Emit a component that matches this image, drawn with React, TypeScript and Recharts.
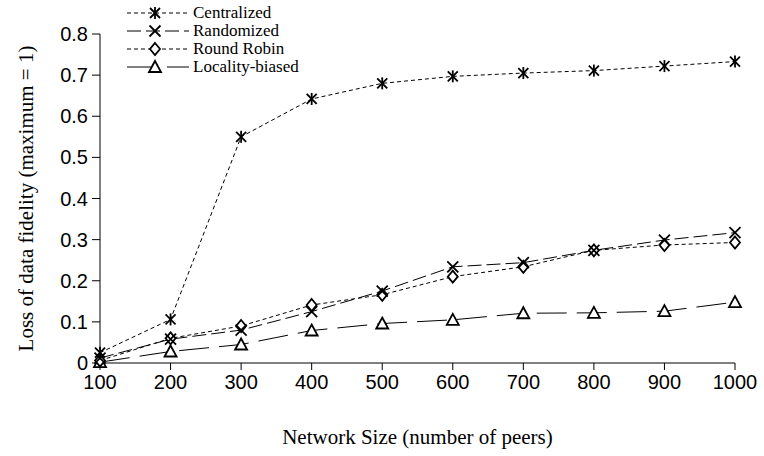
import { LineChart, Line, XAxis, YAxis } from 'recharts';

// values
const networkSizes = [100, 200, 300, 400, 500, 600, 700, 800, 900, 1000];
const centralized = [0.025, 0.106, 0.55, 0.642, 0.68, 0.697, 0.705, 0.711, 0.722, 0.733];
const randomized = [0.012, 0.058, 0.08, 0.125, 0.175, 0.234, 0.244, 0.274, 0.299, 0.317];
const roundRobin = [0.006, 0.06, 0.09, 0.141, 0.166, 0.21, 0.234, 0.274, 0.287, 0.293];
const localityBiased = [0.002, 0.028, 0.045, 0.079, 0.096, 0.105, 0.121, 0.122, 0.126, 0.148];
const xTicks = [100, 200, 300, 400, 500, 600, 700, 800, 900, 1000];
const yTicks = [0, 0.1, 0.2, 0.3, 0.4, 0.5, 0.6, 0.7, 0.8];

const data = networkSizes.map((size, i) => ({
  size,
  centralized: centralized[i],
  randomized: randomized[i],
  roundRobin: roundRobin[i],
  localityBiased: localityBiased[i]
}));

type MarkerKind = 'asterisk' | 'cross' | 'diamond' | 'triangle';

const Marker = ({ cx, cy, kind }: { cx: number; cy: number; kind: MarkerKind }) => {
  const sw = 1.8;
  if (kind === 'asterisk') {
    return (
      <g stroke="#000" strokeWidth={sw}>
        <line x1={cx - 5} y1={cy - 5} x2={cx + 5} y2={cy + 5} />
        <line x1={cx - 5} y1={cy + 5} x2={cx + 5} y2={cy - 5} />
        <line x1={cx} y1={cy - 6} x2={cx} y2={cy + 6} />
      </g>
    );
  }
  if (kind === 'cross') {
    return (
      <g stroke="#000" strokeWidth={sw}>
        <line x1={cx - 5.5} y1={cy - 5.5} x2={cx + 5.5} y2={cy + 5.5} />
        <line x1={cx - 5.5} y1={cy + 5.5} x2={cx + 5.5} y2={cy - 5.5} />
      </g>
    );
  }
  if (kind === 'diamond') {
    return (
      <polygon
        points={`${cx},${cy - 6} ${cx + 5},${cy} ${cx},${cy + 6} ${cx - 5},${cy}`}
        fill="#fff"
        stroke="#000"
        strokeWidth={sw}
      />
    );
  }
  return (
    <polygon
      points={`${cx},${cy - 6} ${cx + 6},${cy + 5} ${cx - 6},${cy + 5}`}
      fill="#fff"
      stroke="#000"
      strokeWidth={sw}
    />
  );
};

const series: { key: string; name: string; dash: string; marker: MarkerKind }[] = [
  { key: 'centralized', name: 'Centralized', dash: '4 3', marker: 'asterisk' },
  { key: 'randomized', name: 'Randomized', dash: '14 5', marker: 'cross' },
  { key: 'roundRobin', name: 'Round Robin', dash: '4 3', marker: 'diamond' },
  { key: 'localityBiased', name: 'Locality-biased', dash: '30 10', marker: 'triangle' }
];

const serif = "'Times New Roman', Times, 'Liberation Serif', 'Nimbus Roman', 'Noto Serif', serif";
const sans = "Arial, 'Liberation Sans', Helvetica, sans-serif";

const ChartLegend = () => (
  <svg width={240} height={80} style={{ display: 'block' }}>
    {series.map((s, i) => {
      const y = 13 + i * 18;
      return (
        <g key={s.key}>
          <line x1={5} y1={y} x2={67} y2={y} stroke="#000" strokeWidth={1} strokeDasharray={s.dash} />
          <Marker cx={33} cy={y} kind={s.marker} />
          <text x={71} y={y + 5} style={{ fontFamily: serif, fontSize: 17 }} fill="#000">
            {s.name}
          </text>
        </g>
      );
    })}
  </svg>
);

export default function App() {
  return (
    <div style={{ position: 'absolute', left: 0, top: 0, width: 764, height: 456, background: '#fff' }}>
      <LineChart width={764} height={456} data={data} margin={{ top: 34, right: 29, left: 0, bottom: 0 }}>
        <XAxis
          dataKey="size"
          type="number"
          domain={[100, 1000]}
          ticks={xTicks}
          height={93}
          stroke="#000"
          tickSize={7}
          tickMargin={5}
          tick={{ fill: '#000', fontSize: 20, fontFamily: sans }}
          label={{
            value: 'Network Size (number of peers)',
            position: 'insideBottom',
            offset: 12,
            style: { fill: '#000', fontSize: 21, fontFamily: serif }
          }}
        />
        <YAxis
          type="number"
          domain={[0, 0.8]}
          ticks={yTicks}
          width={100}
          stroke="#000"
          tickSize={8}
          tickMargin={4}
          tickFormatter={(v: number) => (v === 0 ? '0' : v.toFixed(1))}
          tick={{ fill: '#000', fontSize: 20, fontFamily: sans }}
          label={{
            value: 'Loss of data fidelity (maximum = 1)',
            angle: -90,
            position: 'insideLeft',
            offset: 26,
            style: { fill: '#000', fontSize: 21, fontFamily: serif, textAnchor: 'middle' }
          }}
        />
        {[...series].reverse().map((s) => (
          <Line
            key={s.key}
            dataKey={s.key}
            name={s.name}
            type="linear"
            stroke="#000"
            strokeWidth={1}
            strokeDasharray={s.dash}
            isAnimationActive={false}
            dot={(p: any) => <Marker key={`${s.key}-${p.index}`} cx={p.cx} cy={p.cy} kind={s.marker} />}
            activeDot={false}
          />
        ))}
      </LineChart>
      <div style={{ position: 'absolute', left: 122, top: 0 }}>
        <ChartLegend />
      </div>
    </div>
  );
}
